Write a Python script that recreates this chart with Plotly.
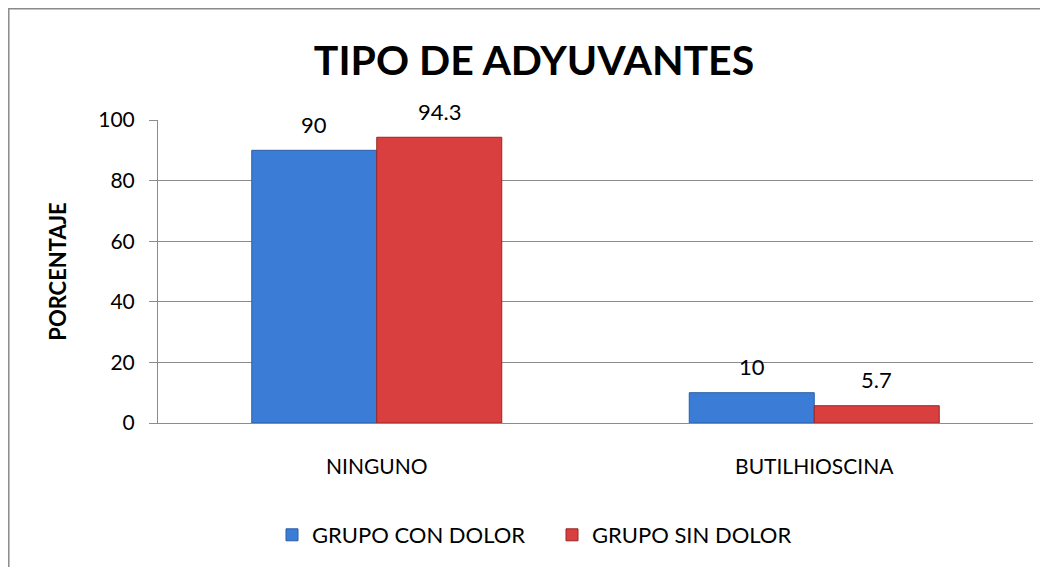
import plotly.graph_objects as go

categories = ["NINGUNO", "BUTILHIOSCINA"]
con_dolor = [90, 10]
sin_dolor = [94.3, 5.7]
con_labels = ["90", "10"]
sin_labels = ["94.3", "5.7"]
y_ticks = [0, 20, 40, 60, 80, 100]

FONT = "Lato, 'Open Sans', sans-serif"
GRID = "#8c8c8c"

# page offset (body margin) in the browser
OFF = 8
W, H = 1048, 567
L, R, T, B = 158 - OFF, 23, 120 - OFF, 152
pw, ph = W - L - R, H - T - B

def px_x(x):
    return (x - OFF - L) / pw

def px_y(y):
    return (H - B - (y - OFF)) / ph

fig = go.Figure()
fig.add_trace(go.Bar(
    x=categories, y=con_dolor, name="GRUPO CON DOLOR",
    marker=dict(color="#3b7dd6", line=dict(color="#2a5fa8", width=1)),
))
fig.add_trace(go.Bar(
    x=categories, y=sin_dolor, name="GRUPO SIN DOLOR",
    marker=dict(color="#d93f3f", line=dict(color="#9a2525", width=1)),
))

annotations = []
for cat, v, lab in zip(categories, con_dolor, con_labels):
    annotations.append(dict(x=cat, y=v, xref="x", yref="y", text=lab, showarrow=False,
                            xshift=-62.5, yshift=26, yanchor="middle",
                            font=dict(family=FONT, size=22, color="#000")))
for cat, v, lab in zip(categories, sin_dolor, sin_labels):
    annotations.append(dict(x=cat, y=v, xref="x", yref="y", text=lab, showarrow=False,
                            xshift=62.5, yshift=26, yanchor="middle",
                            font=dict(family=FONT, size=22, color="#000")))

fig.update_layout(
    width=W, height=H,
    margin=dict(l=L, r=R, t=T, b=B, autoexpand=False),
    paper_bgcolor="white", plot_bgcolor="white",
    barmode="group", bargap=0.4286, bargroupgap=0,
    title=dict(text="<b>TIPO DE ADYUVANTES</b>", x=((315 + 753) / 2 - OFF) / W, xanchor="center",
               y=1 - (61 - OFF) / H, yanchor="middle",
               font=dict(family=FONT, size=41, color="#000")),
    font=dict(family=FONT, size=20, color="#000"),
    showlegend=True,
    legend=dict(orientation="h", x=px_x(272), xanchor="left", y=px_y(535), yanchor="middle",
                font=dict(family=FONT, size=22, color="#000"),
                entrywidth=235, entrywidthmode="pixels", traceorder="normal",
                bgcolor="rgba(0,0,0,0)"),
    annotations=annotations,
    shapes=[dict(type="rect", xref="paper", yref="paper",
                 x0=px_x(OFF + 0.8), y0=px_y(620), x1=px_x(1080), y1=px_y(OFF + 0.8),
                 line=dict(color="#8a8a8a", width=1.5), fillcolor="rgba(0,0,0,0)", layer="below")],
)

fig.update_xaxes(
    showline=True, linecolor=GRID, linewidth=1, ticks="", showgrid=False,
    tickfont=dict(family=FONT, size=21, color="#000"), ticklabelstandoff=25,
)
fig.update_yaxes(
    range=[0, 100], tickvals=y_ticks, showline=True, linecolor=GRID, linewidth=1,
    ticks="outside", ticklen=8, tickcolor=GRID, showgrid=True, gridcolor=GRID, gridwidth=1,
    tickfont=dict(family=FONT, size=21, color="#000"), ticklabelstandoff=10,
    title=dict(text="<b>PORCENTAJE</b>", standoff=25, font=dict(family=FONT, size=22, color="#000")),
    automargin=False, zeroline=False,
)

fig.write_html("out.html")
